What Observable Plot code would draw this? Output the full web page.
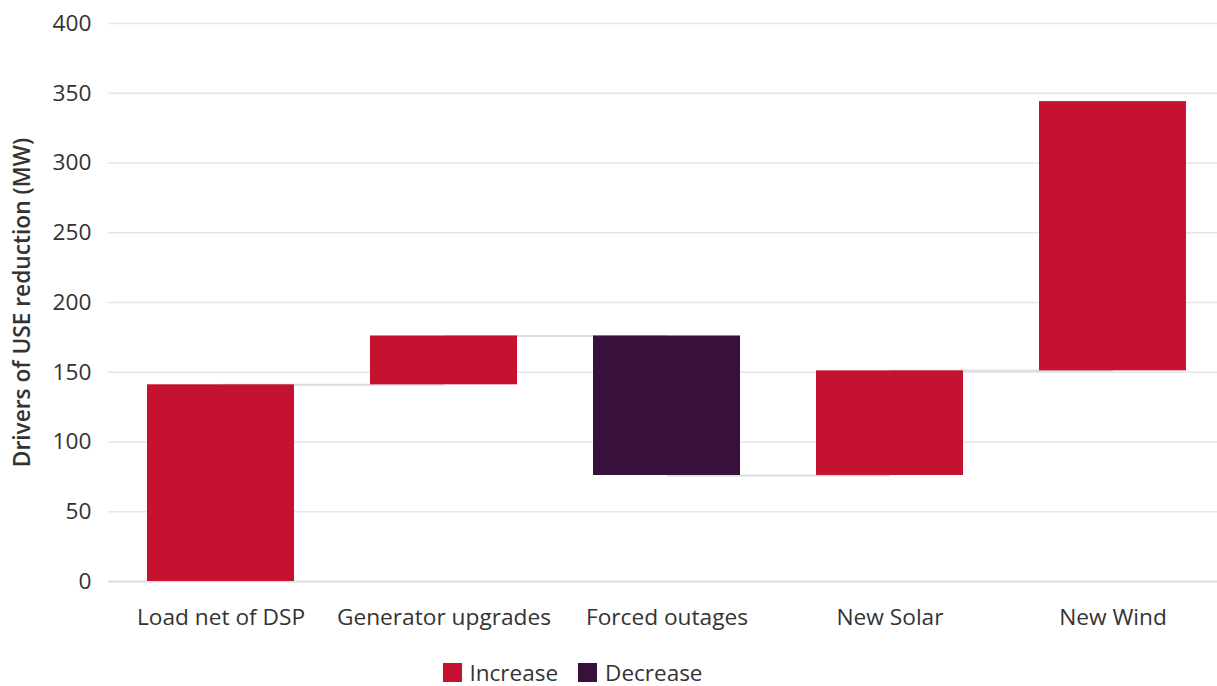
<!DOCTYPE html>
<html>
<head>
<meta charset="utf-8">
<script src="https://cdn.jsdelivr.net/npm/d3@7"></script>
<script src="https://cdn.jsdelivr.net/npm/@observablehq/plot@0.6"></script>
<style>
  html, body { margin: 0; padding: 0; background: #fff; }
  body { width: 1217px; height: 686px; overflow: hidden; font-family: "Open Sans", "Noto Sans", sans-serif; }
  #chart svg { display: block; }
  #chart svg [aria-label="y-axis label"] text { font-weight: 600; }
  .legend { height: 28px; display: flex; justify-content: center; align-items: center; font-size: 22.5px; color: #333; padding-right: 72px; }
  .legend .item { display: flex; align-items: center; margin: 0 10px; }
  .legend .sw { width: 19px; height: 19px; margin-right: 8px; }
</style>
</head>
<body>
<div id="chart"></div>
<div class="legend" id="legend"></div>
<script>
const categories = ["Load net of DSP", "Generator upgrades", "Forced outages", "New Solar", "New Wind"];
const changes = [141, 35, -100, 75, 193];
const typeNames = ["Increase", "Decrease"];
const typeColors = ["#C41230", "#38103C"];
const yTicks = [0, 50, 100, 150, 200, 250, 300, 350, 400];

let run = 0;
const rows = categories.map((c, i) => {
  const start = run;
  run += changes[i];
  return { category: c, start, end: run, type: changes[i] >= 0 ? "Increase" : "Decrease" };
});
const links = rows.slice(0, -1).map((r, i) => ({ from: r.category, to: rows[i + 1].category, level: r.end }));

const chart = Plot.plot({
  width: 1217,
  height: 658,
  marginLeft: 108,
  marginRight: 0,
  marginTop: 23,
  marginBottom: 77,
  style: { fontFamily: "'Open Sans', 'Noto Sans', sans-serif", fontSize: "22.7px", color: "#333", background: "#fff" },
  x: { domain: categories, paddingInner: 0.34, paddingOuter: 0.1455, align: 0.56, label: null, tickSize: 0, tickPadding: 27 },
  y: { domain: [0, 400], ticks: yTicks, label: "Drivers of USE reduction (MW)", labelAnchor: "center", labelArrow: "none", labelOffset: 95, tickSize: 0, tickPadding: 17, grid: false },
  color: { domain: typeNames, range: typeColors },
  marks: [
    Plot.ruleY(yTicks.filter(d => d > 0), { stroke: "#e6e6e6", strokeWidth: 1.3 }),
    Plot.ruleY([0], { stroke: "#dcdcdc", strokeWidth: 2 }),
    Plot.link(links, { x1: "from", x2: "to", y1: "level", y2: "level", stroke: "#dcdcdc", strokeWidth: 2 }),
    Plot.barY(rows, { x: "category", y1: "start", y2: "end", fill: "type" })
  ]
});
document.getElementById("chart").appendChild(chart);

const legend = document.getElementById("legend");
typeNames.forEach((n, i) => {
  const it = document.createElement("div");
  it.className = "item";
  const sw = document.createElement("div");
  sw.className = "sw";
  sw.style.background = typeColors[i];
  const t = document.createElement("span");
  t.textContent = n;
  it.appendChild(sw);
  it.appendChild(t);
  legend.appendChild(it);
});
</script>
</body>
</html>
